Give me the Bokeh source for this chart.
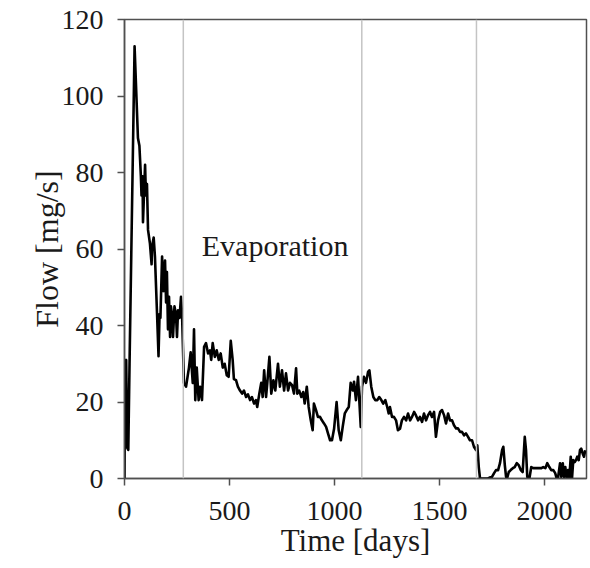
from bokeh.plotting import figure
from bokeh.models import Span, Range1d, FixedTicker, Label
from bokeh.embed import file_html
from bokeh.resources import INLINE

days = [0, 3, 8, 13, 18, 24,
        48, 64, 71, 78, 81, 86, 88, 98, 102, 107, 112, 121, 129, 131, 139, 145,
        155, 162, 167, 171, 179, 186, 193, 198, 202, 207, 212, 217, 221, 226,
        231, 238, 245, 250, 255, 262, 269, 274,
        283, 293, 307, 315, 325, 331, 337, 344, 353, 360, 369, 379, 388, 398,
        407, 413, 420, 430, 439, 449, 458, 468, 477, 487, 496, 506, 515, 521,
        531, 540, 550, 560, 569, 579, 588, 598, 607, 617, 626, 632, 642, 651,
        658, 665, 674, 680, 690, 699, 709, 718, 731, 740, 750, 760, 769, 779,
        788, 798, 807, 817, 823, 832, 842, 851, 858, 868, 877, 887, 896, 902,
        912, 921, 931, 940, 950, 960, 969, 979, 988, 998, 1010, 1020, 1030,
        1039, 1049, 1058, 1068, 1077, 1087, 1093, 1102, 1112, 1118, 1125, 1131,
        1140, 1150, 1160, 1166, 1175, 1185, 1194, 1204, 1213, 1223, 1232, 1242,
        1251, 1258, 1264, 1274, 1283, 1293, 1302, 1312, 1321, 1331, 1341, 1350,
        1360, 1369, 1379, 1388, 1398, 1407, 1417, 1426, 1436, 1445, 1455, 1464,
        1474, 1483, 1493, 1503, 1512, 1522, 1531, 1541, 1550, 1560, 1569, 1579,
        1588, 1598, 1607, 1617, 1626, 1636, 1645, 1655, 1664, 1674, 1680, 1687,
        1693, 1712, 1731, 1741, 1750, 1760, 1769, 1779, 1788, 1798, 1804, 1811,
        1817, 1823, 1830, 1839, 1849, 1858, 1868, 1877, 1887, 1896, 1906, 1912,
        1918, 1928, 1937, 1947, 1956, 1966, 1975, 1985, 1994, 2004, 2013, 2023,
        2032, 2042, 2051, 2058, 2064, 2074, 2080, 2087, 2093, 2099, 2106, 2112,
        2118, 2125, 2131, 2137, 2144, 2150, 2156, 2163, 2169, 2175, 2182, 2188,
        2194]

flow = [0, 30, 31, 8, 7.5, 30,
        113, 89, 87, 79, 74, 79, 67, 82, 74, 77, 65, 61.5, 56, 60.5, 63, 58,
        43, 32, 43, 42, 58, 49, 57, 46, 54, 39, 47.5, 37, 45, 43,
        37, 45, 43, 37, 44, 42, 47.5, 43,
        25, 24, 29, 33, 25, 39, 20.5, 29, 20.5, 24, 20.5, 34.4, 35.4, 32.7,
        33.5, 31, 35.4, 31.8, 33.5, 31, 32.7, 29, 30, 27, 26.6, 36, 31, 26,
        25.7, 24, 23, 22.2, 23, 21.3, 22, 20.5, 21.3, 19.6, 20.5, 18.7, 22.2, 25,
        21.3, 28.3, 21.3, 25, 31.8, 22.2, 25.7, 23, 30, 24, 28.3, 23, 27.5, 23,
        25, 24.4, 22.2, 28.8, 22.2, 23, 21.3, 22.6, 19.6, 24, 18.7, 15.2, 12.6, 19.6,
        17.9, 16.1, 16.1, 15.2, 14.4, 13.5, 11.8, 10, 10, 13, 20, 12.6, 10,
        13.5, 17, 17.9, 18.7, 25, 23, 25.3, 20.5, 26.6, 20.5, 13.5, 24,
        26.6, 25, 27.9, 28.3, 24, 21.3, 20.5, 20.5, 21.3, 20.5, 19.6, 20.5,
        18.7, 17, 18.7, 16.1, 16.1, 15.2, 12.6, 13, 15.2, 16.1, 15.2, 17,
        15.2, 16.1, 17.4, 16.5, 15.2, 16.1, 14.8, 17, 15.2, 16.5, 17.4, 16.1,
        17.4, 10.9, 15.2, 17.4, 17.9, 16.5, 14.4, 17, 15.2, 15.2, 13.9, 13.1,
        13.1, 12.2, 12.2, 11.3, 11.8, 10.9, 10, 10, 8.3, 7.4, 8.7, 3,
        0, 0, 0, 0.3, 0.4, 1.4, 2.2, 2.2, 4, 7.4, 8.3, 3.5,
        0.4, 0.3, 1.7, 2.2, 2.7, 3, 4, 3.5, 2.2, 1.7, 10.9, 7.4,
        0.4, 0, 3, 2.7, 2.7, 2.7, 2.7, 2.7, 3, 2.7, 4, 3,
        2.2, 2.2, 1.4, 0, 0, 4, 0.4, 4, 0.4, 3, 0, 2.2,
        0, 5.7, 0, 4.8, 4.3, 4.8, 5.7, 4.8, 7.4, 7.8, 6.5, 5.7,
        7.4]

phase_bounds = [280, 1130, 1676]
x_ticks = [0, 500, 1000, 1500, 2000]
y_ticks = [0, 20, 40, 60, 80, 100, 120]
annotation = "Evaporation"
annotation_pos = (368, 61)

FONT = "Liberation Serif"
AXC = "#505050"

p = figure(width=590, height=568, output_backend="svg", toolbar_location=None,
           x_range=Range1d(0, 2200), y_range=Range1d(0, 120),
           min_border_left=124, min_border_right=4, min_border_top=19,
           min_border_bottom=90)

p.xgrid.visible = False
p.ygrid.visible = False
p.outline_line_color = AXC
p.outline_line_width = 1.5

for b in phase_bounds:
    p.add_layout(Span(location=b, dimension="height", line_color="#c4c4c4", line_width=1.5))

p.line(days, flow, line_color="black", line_width=2.6, line_join="round")

p.add_layout(Label(x=annotation_pos[0], y=annotation_pos[1], text=annotation,
                   text_font=FONT, text_font_size="30px", text_color="#1a1a1a",
                   text_baseline="alphabetic", text_align="left"))

for ax in (p.xaxis[0], p.yaxis[0]):
    ax.axis_line_color = AXC
    ax.axis_line_width = 1.5
    ax.major_tick_line_color = AXC
    ax.major_tick_line_width = 1.5
    ax.major_tick_out = 7
    ax.major_tick_in = 0
    ax.minor_tick_line_color = None
    ax.major_label_text_font = FONT
    ax.major_label_text_font_size = "28px"
    ax.major_label_text_color = "#1a1a1a"
    ax.axis_label_text_font = FONT
    ax.axis_label_text_font_style = "normal"
    ax.axis_label_text_color = "#1a1a1a"

p.xaxis[0].axis_label_text_font_size = "31px"
p.yaxis[0].axis_label_text_font_size = "32px"
p.xaxis[0].ticker = FixedTicker(ticks=x_ticks)
p.yaxis[0].ticker = FixedTicker(ticks=y_ticks)
p.xaxis[0].axis_label = "Time [days]"
p.yaxis[0].axis_label = "Flow [mg/s]"
p.xaxis[0].major_label_standoff = 16
p.yaxis[0].major_label_standoff = 14
p.xaxis[0].axis_label_standoff = 0
p.yaxis[0].axis_label_standoff = -6

open("out.html", "w").write(file_html(p, INLINE))
